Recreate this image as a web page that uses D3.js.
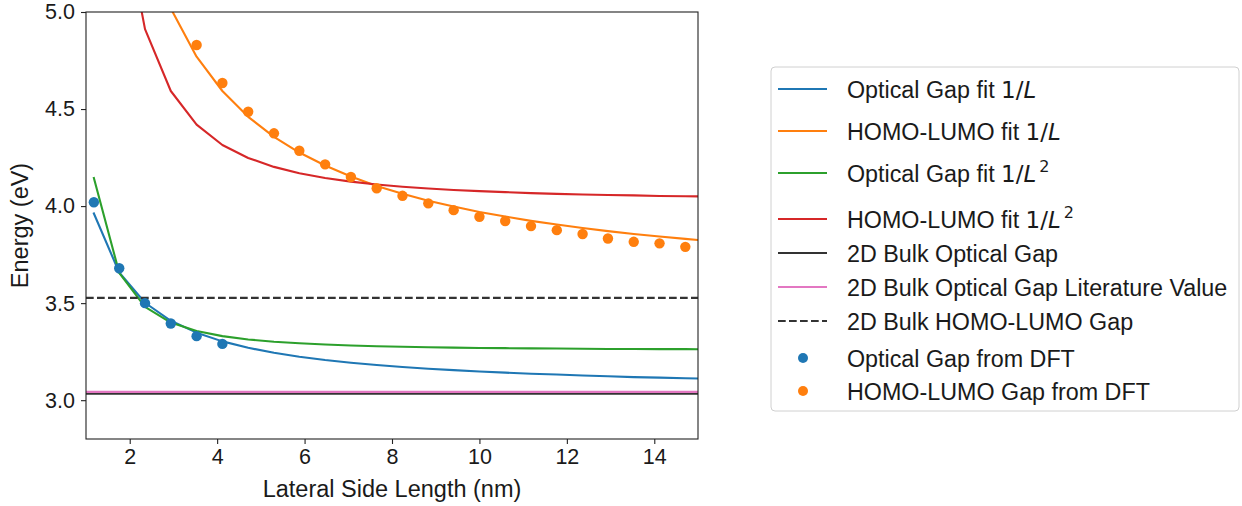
<!DOCTYPE html>
<html>
<head>
<meta charset="utf-8">
<script src="https://cdn.jsdelivr.net/npm/d3@7"></script>
<style>
  html, body { margin: 0; padding: 0; background: #fff; }
  svg { display: block; }
  text { font-family: "Liberation Sans", Arial, sans-serif; fill: #1a1a1a; }
</style>
</head>
<body>
<svg id="chart" width="1242" height="506"></svg>
<script>
// ---------------- data ----------------
const fitL = [1.18, 1.76, 2.35, 2.94, 3.53, 4.12, 4.71, 5.30, 5.88, 6.47, 7.06, 7.65, 8.24,
              8.83, 9.41, 10.00, 10.59, 11.18, 11.77, 12.36, 12.94, 13.53, 14.12, 14.71, 15.30];
const opticalFit1L = [3.962, 3.658, 3.502, 3.409, 3.348, 3.303, 3.270, 3.244, 3.224, 3.207, 3.193,
                      3.181, 3.171, 3.162, 3.155, 3.148, 3.142, 3.136, 3.132, 3.127, 3.123, 3.119,
                      3.116, 3.113, 3.110];
const homoLumoFit1L = [7.232, 6.013, 5.391, 5.018, 4.770, 4.593, 4.460, 4.357, 4.276, 4.209, 4.152,
                       4.104, 4.064, 4.028, 3.998, 3.970, 3.946, 3.924, 3.905, 3.887, 3.871, 3.856,
                       3.843, 3.831, 3.819];
const opticalFit1L2 = [4.145, 3.656, 3.481, 3.400, 3.356, 3.330, 3.313, 3.301, 3.293, 3.287, 3.282,
                       3.278, 3.275, 3.273, 3.271, 3.269, 3.268, 3.267, 3.266, 3.265, 3.264, 3.264,
                       3.263, 3.263, 3.262];
const homoLumoFit1L2 = [7.533, 5.603, 4.912, 4.593, 4.420, 4.315, 4.248, 4.202, 4.169, 4.145, 4.126,
                        4.111, 4.100, 4.091, 4.083, 4.077, 4.072, 4.067, 4.063, 4.060, 4.057, 4.055,
                        4.052, 4.051, 4.049];
const bulkOpticalGap = 3.034;
const bulkOpticalGapLit = 3.043;
const bulkHomoLumoGap = 3.527;
const dftOpticalL = [1.18, 1.76, 2.35, 2.94, 3.53, 4.12];
const dftOpticalE = [4.02, 3.68, 3.50, 3.395, 3.33, 3.29];
const dftHomoLumoL = [3.53, 4.12, 4.71, 5.30, 5.88, 6.47, 7.06, 7.65, 8.24, 8.83, 9.41, 10.00,
                      10.59, 11.18, 11.77, 12.36, 12.94, 13.53, 14.12, 14.71];
const dftHomoLumoE = [4.83, 4.634, 4.486, 4.375, 4.285, 4.215, 4.150, 4.092, 4.053, 4.014, 3.979,
                      3.945, 3.923, 3.897, 3.876, 3.856, 3.833, 3.816, 3.808, 3.790];
const xTicks = [2, 4, 6, 8, 10, 12, 14];
const yTicks = [3.0, 3.5, 4.0, 4.5, 5.0];
const xDomain = [1, 15];
const yDomain = [2.8, 5.0];
const xLabel = "Lateral Side Length (nm)";
const yLabel = "Energy (eV)";

// ---------------- layout ----------------
const svg = d3.select("#chart");
const plot = { left: 86, right: 698, top: 12, bottom: 439 };
const x = d3.scaleLinear().domain(xDomain).range([plot.left, plot.right]);
const y = d3.scaleLinear().domain(yDomain).range([plot.bottom, plot.top]);

const C = { blue: "#1f77b4", orange: "#ff7f0e", green: "#2ca02c", red: "#d62728",
            pink: "#e377c2", black: "#333333" };
const LW = 2.1;

svg.append("defs").append("clipPath").attr("id", "clip")
  .append("rect").attr("x", plot.left).attr("y", plot.top)
  .attr("width", plot.right - plot.left).attr("height", plot.bottom - plot.top);

const g = svg.append("g").attr("clip-path", "url(#clip)");
const line = d3.line().x(d => x(d[0])).y(d => y(d[1]));

const fitSeries = [
  { vals: opticalFit1L, color: C.blue },
  { vals: homoLumoFit1L, color: C.orange },
  { vals: opticalFit1L2, color: C.green },
  { vals: homoLumoFit1L2, color: C.red }
];
fitSeries.forEach(s => {
  g.append("path").datum(fitL.map((L, i) => [L, s.vals[i]]))
    .attr("d", line).attr("fill", "none").attr("stroke", s.color)
    .attr("stroke-width", LW).attr("stroke-linejoin", "round").attr("stroke-linecap", "square");
});

const hlines = [
  { v: bulkOpticalGap, color: C.black, dash: null },
  { v: bulkOpticalGapLit, color: C.pink, dash: null },
  { v: bulkHomoLumoGap, color: C.black, dash: "7.7,3.3" }
];
hlines.forEach(h => {
  g.append("line").attr("x1", x(xDomain[0])).attr("x2", x(xDomain[1]))
    .attr("y1", y(h.v)).attr("y2", y(h.v))
    .attr("stroke", h.color).attr("stroke-width", LW)
    .attr("stroke-dasharray", h.dash);
});

g.selectAll("circle.opt").data(dftOpticalL.map((L, i) => [L, dftOpticalE[i]]))
  .join("circle").attr("class", "opt")
  .attr("cx", d => x(d[0])).attr("cy", d => y(d[1])).attr("r", 5.2).attr("fill", C.blue);
g.selectAll("circle.hl").data(dftHomoLumoL.map((L, i) => [L, dftHomoLumoE[i]]))
  .join("circle").attr("class", "hl")
  .attr("cx", d => x(d[0])).attr("cy", d => y(d[1])).attr("r", 5.2).attr("fill", C.orange);

// ---------------- axes ----------------
const tickFont = 21.5;
const xAxis = d3.axisBottom(x).tickValues(xTicks).tickFormat(d3.format("d")).tickSizeOuter(0).tickSize(5).tickPadding(5);
const yAxis = d3.axisLeft(y).tickValues(yTicks).tickFormat(d3.format(".1f")).tickSizeOuter(0).tickSize(5).tickPadding(6);

const gx = svg.append("g").attr("transform", `translate(0,${plot.bottom})`).call(xAxis);
const gy = svg.append("g").attr("transform", `translate(${plot.left},0)`).call(yAxis);
[gx, gy].forEach(a => {
  a.select(".domain").remove();
  a.selectAll(".tick line").attr("stroke", "#222").attr("stroke-width", 1.1);
  a.selectAll(".tick text").style("font-family", '"Liberation Sans", Arial, sans-serif')
    .style("font-size", tickFont + "px").attr("fill", "#1a1a1a");
});

svg.append("rect").attr("x", plot.left).attr("y", plot.top)
  .attr("width", plot.right - plot.left).attr("height", plot.bottom - plot.top)
  .attr("fill", "none").attr("stroke", "#222").attr("stroke-width", 1.1);

svg.append("text").attr("x", (plot.left + plot.right) / 2).attr("y", 497)
  .attr("text-anchor", "middle").style("font-size", "23.5px").text(xLabel);
svg.append("text").attr("transform", `translate(28,${(plot.top + plot.bottom) / 2}) rotate(-90)`)
  .attr("text-anchor", "middle").style("font-size", "23.5px").text(yLabel);

// ---------------- legend ----------------
const leg = svg.append("g");
leg.append("rect").attr("x", 771).attr("y", 67).attr("width", 468).attr("height", 344)
  .attr("rx", 4).attr("fill", "#fff").attr("stroke", "#d0d0d0").attr("stroke-width", 1);

const legendItems = [
  { type: "line", color: C.blue, text: "Optical Gap fit ", math: "1/L", sup: null, y: 89 },
  { type: "line", color: C.orange, text: "HOMO-LUMO fit ", math: "1/L", sup: null, y: 131 },
  { type: "line", color: C.green, text: "Optical Gap fit ", math: "1/L", sup: "2", y: 173 },
  { type: "line", color: C.red, text: "HOMO-LUMO fit ", math: "1/L", sup: "2", y: 219 },
  { type: "line", color: C.black, text: "2D Bulk Optical Gap", y: 253 },
  { type: "line", color: C.pink, text: "2D Bulk Optical Gap Literature Value", y: 287 },
  { type: "dash", color: C.black, text: "2D Bulk HOMO-LUMO Gap", y: 321 },
  { type: "dot", color: C.blue, text: "Optical Gap from DFT", y: 358 },
  { type: "dot", color: C.orange, text: "HOMO-LUMO Gap from DFT", y: 391 }
];
const legFont = 23.3;
legendItems.forEach(it => {
  if (it.type === "dot") {
    leg.append("circle").attr("cx", 803).attr("cy", it.y).attr("r", 5).attr("fill", it.color);
  } else {
    leg.append("line").attr("x1", 778).attr("x2", 827).attr("y1", it.y).attr("y2", it.y)
      .attr("stroke", it.color).attr("stroke-width", LW)
      .attr("stroke-dasharray", it.type === "dash" ? "7.7,3.3" : null);
  }
  const t = leg.append("text").attr("x", 847).attr("y", it.y + 8.5).style("font-size", legFont + "px");
  t.append("tspan").text(it.text);
  if (it.math) {
    t.append("tspan").style("font-family", '"DejaVu Sans", sans-serif').style("font-size", "23px").text("1/");
    t.append("tspan").style("font-family", '"DejaVu Sans", sans-serif').style("font-size", "23px")
      .style("font-style", "italic").text("L");
    if (it.sup) {
      t.append("tspan").style("font-family", '"DejaVu Sans", sans-serif').style("font-size", "16px")
        .attr("dx", 3).attr("dy", -10).text(it.sup);
    }
  }
});
</script>
</body>
</html>
